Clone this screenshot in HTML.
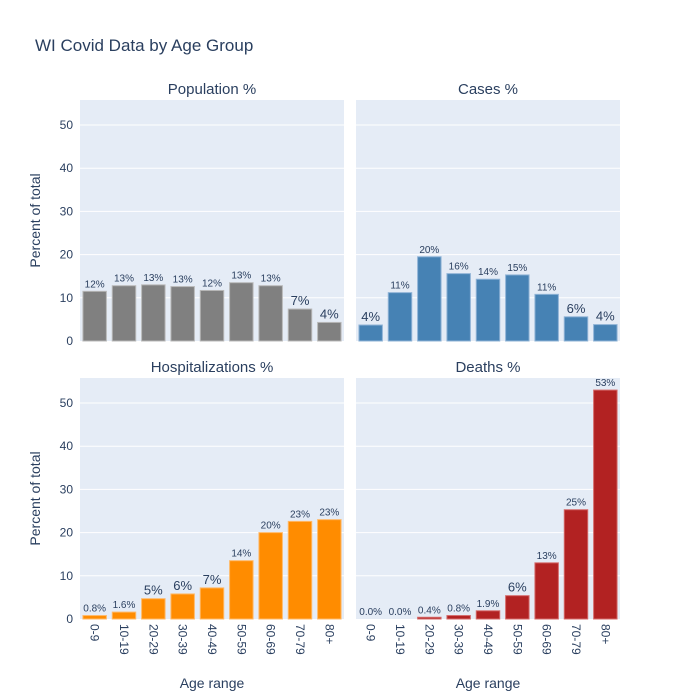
<!DOCTYPE html>
<html><head><meta charset="utf-8">
<style>
html,body{margin:0;padding:0;background:#fff;width:700px;height:700px;overflow:hidden;}
svg{display:block;}
svg text{font-family:"Liberation Sans",Arial,sans-serif;fill:#2a3f5f;}
</style></head>
<body>
<svg id="chart" width="700" height="700" xmlns="http://www.w3.org/2000/svg">
<text x="35" y="51" font-size="17">WI Covid Data by Age Group</text>
</svg>
<script>
const categories = ["0-9","10-19","20-29","30-39","40-49","50-59","60-69","70-79","80+"];
const population = [11.5,12.8,13.0,12.6,11.7,13.5,12.8,7.4,4.3];
const populationLabels = ["12%","13%","13%","13%","12%","13%","13%","7%","4%"];
const cases = [3.7,11.2,19.5,15.6,14.3,15.3,10.8,5.6,3.8];
const casesLabels = ["4%","11%","20%","16%","14%","15%","11%","6%","4%"];
const hosp = [0.8,1.6,4.7,5.8,7.2,13.5,20.0,22.6,23.0];
const hospLabels = ["0.8%","1.6%","5%","6%","7%","14%","20%","23%","23%"];
const deaths = [0.0,0.0,0.4,0.8,1.9,5.4,13.0,25.3,53.0];
const deathsLabels = ["0.0%","0.0%","0.4%","0.8%","1.9%","6%","13%","25%","53%"];
const yTicks = [0,10,20,30,40,50];

const NS="http://www.w3.org/2000/svg";
const svg=document.getElementById('chart');
function mk(tag,attrs,parent){const e=document.createElementNS(NS,tag);for(const k in attrs)e.setAttribute(k,attrs[k]);(parent||svg).appendChild(e);return e;}
const YMAX=55.8;
const panels=[
 {name:"population",title:"Population %",vals:population,labels:populationLabels,x0:80,y0:100,color:"#808080",stroke:"#b8b8b8",left:true,bottom:false},
 {name:"cases",title:"Cases %",vals:cases,labels:casesLabels,x0:356,y0:100,color:"#4682b4",stroke:"#8fb3d6",left:false,bottom:false},
 {name:"hospitalizations",title:"Hospitalizations %",vals:hosp,labels:hospLabels,x0:80,y0:378,color:"#ff8c00",stroke:"#ffb866",left:true,bottom:true},
 {name:"deaths",title:"Deaths %",vals:deaths,labels:deathsLabels,x0:356,y0:378,color:"#b22222",stroke:"#d46a6a",left:false,bottom:true}
];
const W=264,H=241;
panels.forEach(p=>{
 const g=mk('g',{});
 
 
 const yS=v=>p.y0+H-v/YMAX*H;
 const band=W/categories.length;
 const xS=i=>p.x0+band*i;
 const bg=mk('rect',{x:p.x0,y:p.y0,width:W,height:H,fill:'#e5ecf6'},g);
 
 
 yTicks.forEach(t=>{
  if(t>0){const l=mk('line',{x1:p.x0,x2:p.x0+W,y1:yS(t),y2:yS(t),stroke:'#fff','stroke-width':1},g);
  
  }
  if(p.left){const tx=mk('text',{x:p.x0-7,y:yS(t)+4,'font-size':12,'text-anchor':'end'},g);tx.textContent=t;
  
  }
 });
 const tt=mk('text',{x:p.x0+W/2,y:p.y0-6,'font-size':15,'text-anchor':'middle'},g);tt.textContent=p.title;
 
 
 p.vals.forEach((v,i)=>{
  const bw=band*0.8,bx=xS(i)+band*0.1,by=yS(v);
  const r=mk('rect',{x:bx,y:by,width:bw,height:Math.max(0,yS(0)-by),fill:p.color,stroke:p.stroke,'stroke-width':1},g);
  
  
  const lab=p.labels[i];const fs=lab.length<=2?13:10;
  const t=mk('text',{x:bx+bw/2,y:by-4,'font-size':fs,'text-anchor':'middle'},g);t.textContent=lab;
  
  
  if(p.bottom){const xl=mk('text',{x:0,y:0,'font-size':12,'text-anchor':'start',transform:`translate(${bx+bw/2-4},${p.y0+H+5}) rotate(90)`},g);xl.textContent=categories[i];
  
  }
 });
 if(p.left){const yt=mk('text',{x:0,y:0,'font-size':14,'text-anchor':'middle',transform:`translate(40,${p.y0+H/2}) rotate(-90)`},g);yt.textContent='Percent of total';
  
  }
 if(p.bottom){const xt=mk('text',{x:p.x0+W/2,y:688,'font-size':14,'text-anchor':'middle'},g);xt.textContent='Age range';
  
  }
});
</script>
</body></html>
